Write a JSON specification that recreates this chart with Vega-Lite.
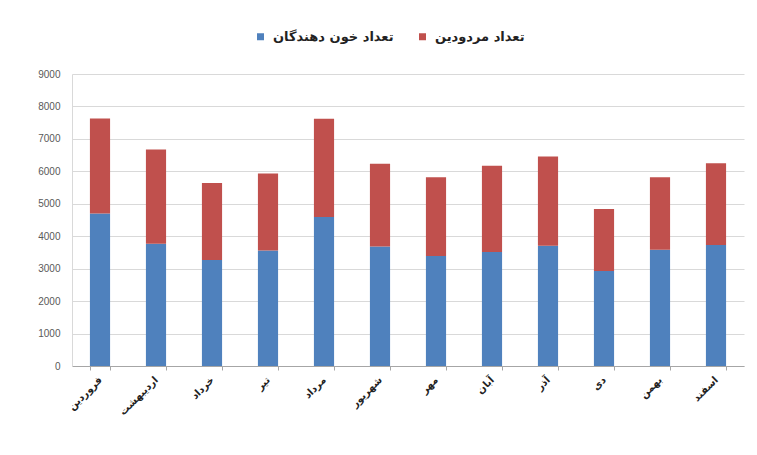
{
  "$schema": "https://vega.github.io/schema/vega-lite/v6.json",
  "width": 672,
  "height": 292,
  "autosize": {"type": "none"},
  "padding": {"left": 72, "top": 74, "right": 13, "bottom": 89},
  "background": "white",
  "data": {
    "values": [
      {"month": "فروردین", "series": "تعداد خون دهندگان", "value": 4700},
      {"month": "فروردین", "series": "تعداد مردودین", "value": 2930},
      {"month": "اردیبهشت", "series": "تعداد خون دهندگان", "value": 3770},
      {"month": "اردیبهشت", "series": "تعداد مردودین", "value": 2900},
      {"month": "خرداد", "series": "تعداد خون دهندگان", "value": 3270},
      {"month": "خرداد", "series": "تعداد مردودین", "value": 2370},
      {"month": "تیر", "series": "تعداد خون دهندگان", "value": 3560},
      {"month": "تیر", "series": "تعداد مردودین", "value": 2370},
      {"month": "مرداد", "series": "تعداد خون دهندگان", "value": 4590},
      {"month": "مرداد", "series": "تعداد مردودین", "value": 3030},
      {"month": "شهریور", "series": "تعداد خون دهندگان", "value": 3680},
      {"month": "شهریور", "series": "تعداد مردودین", "value": 2550},
      {"month": "مهر", "series": "تعداد خون دهندگان", "value": 3390},
      {"month": "مهر", "series": "تعداد مردودین", "value": 2430},
      {"month": "آبان", "series": "تعداد خون دهندگان", "value": 3510},
      {"month": "آبان", "series": "تعداد مردودین", "value": 2660},
      {"month": "آذر", "series": "تعداد خون دهندگان", "value": 3710},
      {"month": "آذر", "series": "تعداد مردودین", "value": 2750},
      {"month": "دی", "series": "تعداد خون دهندگان", "value": 2930},
      {"month": "دی", "series": "تعداد مردودین", "value": 1910},
      {"month": "بهمن", "series": "تعداد خون دهندگان", "value": 3580},
      {"month": "بهمن", "series": "تعداد مردودین", "value": 2240},
      {"month": "اسفند", "series": "تعداد خون دهندگان", "value": 3730},
      {"month": "اسفند", "series": "تعداد مردودین", "value": 2520}
    ]
  },
  "mark": {"type": "bar"},
  "encoding": {
    "x": {
      "field": "month",
      "type": "nominal",
      "sort": null,
      "scale": {"paddingInner": 0.64, "paddingOuter": 0.32},
      "axis": {
        "title": null,
        "labelAngle": -45,
        "labelAlign": "right",
        "labelBaseline": "middle",
        "labelFont": "DejaVu Sans",
        "labelFontSize": 10,
        "labelFontWeight": "bold",
        "labelColor": "#222222",
        "labelPadding": 8,
        "domainColor": "#a6a6a6",
        "tickColor": "#a6a6a6",
        "tickBand": "extent",
        "tickSize": 4,
        "grid": false
      }
    },
    "y": {
      "field": "value",
      "type": "quantitative",
      "stack": "zero",
      "scale": {"domain": [0, 9000], "nice": false},
      "axis": {
        "title": null,
        "values": [0, 1000, 2000, 3000, 4000, 5000, 6000, 7000, 8000, 9000],
        "format": "d",
        "labelFont": "Liberation Sans",
        "labelFontSize": 10,
        "labelColor": "#595959",
        "labelPadding": 12,
        "ticks": false,
        "domainColor": "#d9d9d9",
        "gridColor": "#d9d9d9",
        "gridWidth": 1
      }
    },
    "color": {
      "field": "series",
      "type": "nominal",
      "scale": {
        "domain": ["تعداد خون دهندگان", "تعداد مردودین"],
        "range": ["#4f81bd", "#c0504d"]
      },
      "legend": {
        "title": null,
        "orient": "none",
        "direction": "horizontal",
        "legendX": 182,
        "legendY": -44,
        "symbolType": "square",
        "symbolSize": 49,
        "symbolStrokeWidth": 0,
        "labelFont": "DejaVu Sans",
        "labelFontSize": 13,
        "labelFontWeight": "bold",
        "labelColor": "#222222",
        "labelOffset": 6,
        "columnPadding": 22,
        "labelLimit": 300
      }
    },
    "order": {"field": "series", "sort": "ascending"}
  },
  "config": {
    "view": {"stroke": null}
  }
}
